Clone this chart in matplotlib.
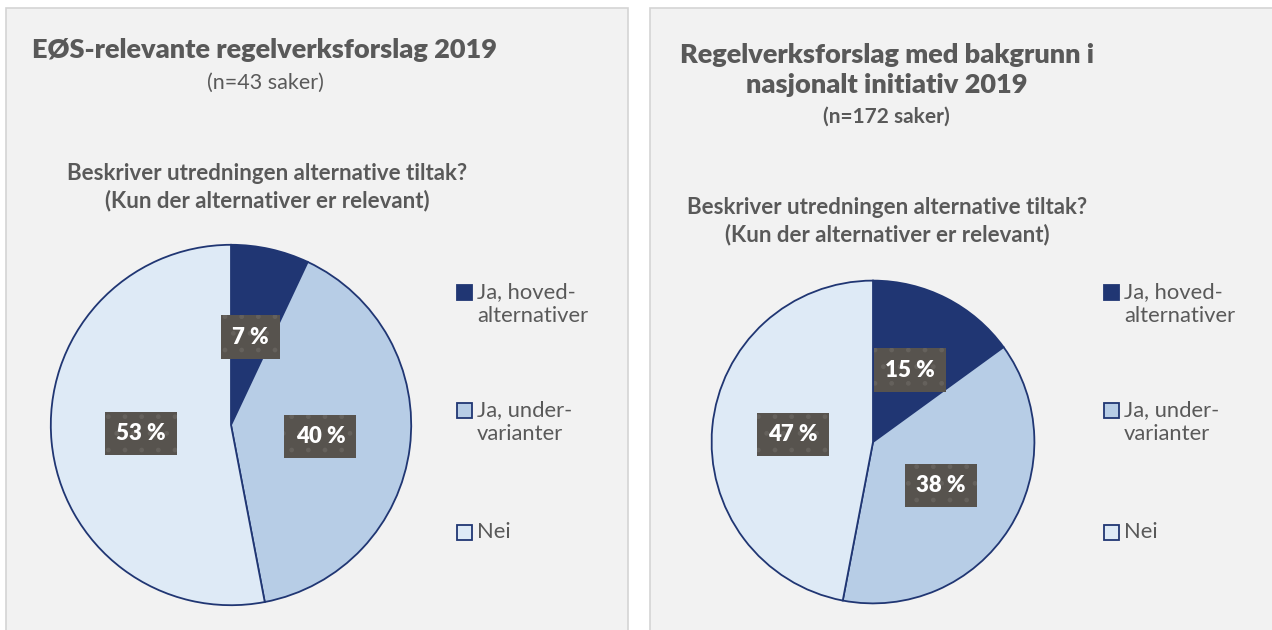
import matplotlib
matplotlib.use("Agg")
import matplotlib.pyplot as plt
from matplotlib.patches import Rectangle

W, H = 1272, 630

categories = ["Ja, hoved-\nalternativer", "Ja, under-\nvarianter", "Nei"]
eos_share = [7, 40, 53]
national_share = [15, 38, 47]

SLICE_COLORS = ["#203673", "#b7cde6", "#deeaf6"]
EDGE_COLOR = "#203673"
TEXT_COLOR = "#595959"
PANEL_COLOR = "#f2f2f2"

plt.rcParams["font.family"] = ["Lato", "DejaVu Sans"]
plt.rcParams["hatch.linewidth"] = 1.0


def fx(px):
    return px / W


def fy(py):
    return 1 - py / H


def add_panel(fig, x0, x1, y0):
    fig.patches.append(Rectangle((fx(x0), -0.01), fx(x1 - x0), fy(y0) + 0.01,
                                 transform=fig.transFigure, facecolor=PANEL_COLOR,
                                 edgecolor="#d4d4d4", linewidth=1.2, zorder=-5))


def draw_pie(fig, values, cx, cy, r):
    ax = fig.add_axes([fx(cx - r), fy(cy + r), fx(2 * r), (2 * r) / H])
    ax.set_zorder(2)
    ax.patch.set_visible(False)
    wedges, _, labels = ax.pie(
        values,
        colors=SLICE_COLORS,
        startangle=90,
        counterclock=False,
        autopct=lambda p: f"{p:.0f} %",
        pctdistance=0.5,
        wedgeprops=dict(edgecolor=EDGE_COLOR, linewidth=1.3),
    )
    for label in labels:
        label.set_color("white")
        label.set_fontweight("heavy")
        label.set_fontsize(16)
        label.set_bbox(dict(boxstyle="square,pad=0.5", facecolor="#57534e",
                            edgecolor="#65615c", hatch=".", linewidth=0))
    ax.set_xlim(-1.01, 1.01)
    ax.set_ylim(-1.01, 1.01)
    ax.set_aspect("equal")
    ax.axis("off")
    return ax


def draw_legend(fig, x, ys):
    for color, label, y in zip(SLICE_COLORS, categories, ys):
        fig.patches.append(Rectangle((fx(x), fy(y + 8)), fx(15), 15 / H,
                                     transform=fig.transFigure, facecolor=color,
                                     edgecolor=EDGE_COLOR, linewidth=1.3, zorder=3))
        fig.text(fx(x + 20), fy(y - 10), label, color=TEXT_COLOR, fontsize=15.8,
                 va="top", ha="left", linespacing=1.27)


fig = plt.figure(figsize=(W / 100, H / 100), dpi=100)
fig.patch.set_facecolor("white")

add_panel(fig, 6, 628, 8)
add_panel(fig, 650, 1290, 8)

# left panel
fig.text(fx(32), fy(50), "EØS-relevante regelverksforslag 2019", fontsize=19.5,
         fontweight="heavy", color=TEXT_COLOR, ha="left", va="center")
fig.text(fx(265), fy(83), "(n=43 saker)", fontsize=15.5, color=TEXT_COLOR,
         ha="center", va="center")
fig.text(fx(267), fy(187), "Beskriver utredningen alternative tiltak?\n(Kun der alternativer er relevant)",
         fontsize=16, fontweight="bold", color=TEXT_COLOR, ha="center", va="center",
         linespacing=1.3)
draw_pie(fig, eos_share, 231, 425, 182)
draw_legend(fig, 457, [292, 410, 532])

# right panel
fig.text(fx(887), fy(70), "Regelverksforslag med bakgrunn i\nnasjonalt initiativ 2019", fontsize=19.5,
         fontweight="heavy", color=TEXT_COLOR, ha="center", va="center", linespacing=1.32)
fig.text(fx(886), fy(117), "(n=172 saker)", fontsize=15, fontweight="bold",
         color=TEXT_COLOR, ha="center", va="center")
fig.text(fx(887), fy(221), "Beskriver utredningen alternative tiltak?\n(Kun der alternativer er relevant)",
         fontsize=16, fontweight="bold", color=TEXT_COLOR, ha="center", va="center",
         linespacing=1.33)
draw_pie(fig, national_share, 873, 442, 163)
draw_legend(fig, 1104, [292, 410, 532])

fig.savefig("out.png", dpi=100, facecolor=fig.get_facecolor())
